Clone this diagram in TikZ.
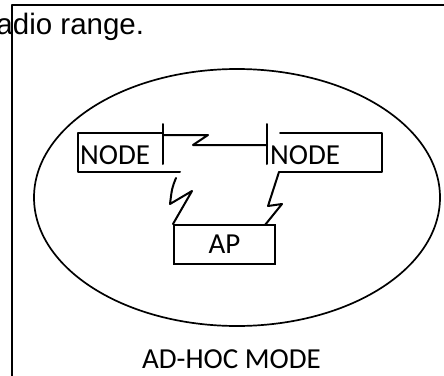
\documentclass[tikz,border=0pt]{standalone}
\usepackage{fontspec}
\usetikzlibrary{shapes.geometric}
\setmainfont{Carlito}
\newfontfamily\arialfont{Liberation Sans}
\begin{document}
\begin{tikzpicture}[x=1pt,y=-1pt,
  ln/.style={line width=2pt,line cap=round,line join=round},
  lab/.style={inner sep=0pt,font=\fontsize{29}{31}\selectfont}]
\useasboundingbox (0,0) rectangle (444,375);
\clip (0,0) rectangle (444,375);
% frame
\coordinate (ftl) at (12,5);
\coordinate (ftr) at (446,5);
\coordinate (fbl) at (12,377);
\draw[ln] (ftr) -- (ftl) -- (fbl);
\node[anchor=base west,inner sep=0pt,font=\arialfont\fontsize{29.5}{31}\selectfont] (cap) at (-3.7,34) {adio range.};
% ellipse
\node[draw,line width=1.7pt,ellipse,minimum width=406pt,minimum height=257pt,inner sep=0pt] (ell) at (237,197.5) {};
% left NODE
\coordinate (l1) at (163,133);
\coordinate (l2) at (78,133);
\coordinate (l3) at (78,172);
\coordinate (l4) at (180,172);
\draw[ln] (l1) -- (l2) -- (l3) -- (l4);
\coordinate (lvt) at (163,124);
\coordinate (lvb) at (163,164);
\draw[ln] (lvt) -- (lvb);
\node[lab,anchor=base west] (nl) at (80,164) {NODE};
% right NODE
\coordinate (r1) at (280,133);
\coordinate (r2) at (382,133);
\coordinate (r3) at (382,172);
\coordinate (r4) at (279,172);
\draw[ln] (r1) -- (r2) -- (r3) -- (r4);
\coordinate (rvt) at (267,124);
\coordinate (rvb) at (267,164);
\draw[ln] (rvt) -- (rvb);
\node[lab,anchor=base west] (nr) at (270,164) {NODE};
% link between nodes
\coordinate (z1) at (163,135);
\coordinate (z2) at (208,135);
\coordinate (z3) at (193,145);
\coordinate (z4) at (267,145);
\draw[ln] (z1) -- (z2) -- (z3) -- (z4);
% AP
\node[draw,line width=2pt,minimum width=101pt,minimum height=39pt,inner sep=0pt,font=\fontsize{29}{31}\selectfont] (ap) at (224.5,244.5) {AP};
% lightning left
\coordinate (a1) at (176,178);
\coordinate (a2) at (170,204);
\coordinate (a3) at (192,191);
\coordinate (a4) at (ap.north west);
\draw[ln] (a1) .. controls (172,188) .. (a2) -- (a3) -- (a4);
% lightning right
\coordinate (b1) at (279,172);
\coordinate (b2) at (268,206);
\coordinate (b3) at (282,204);
\coordinate (b4) at (265,225);
\draw[ln] (b1) -- (b2) -- (b3) -- (b4);
% caption
\node[lab,anchor=base] (mode) at (231.5,368) {AD-HOC MODE};
\end{tikzpicture}
\end{document}
